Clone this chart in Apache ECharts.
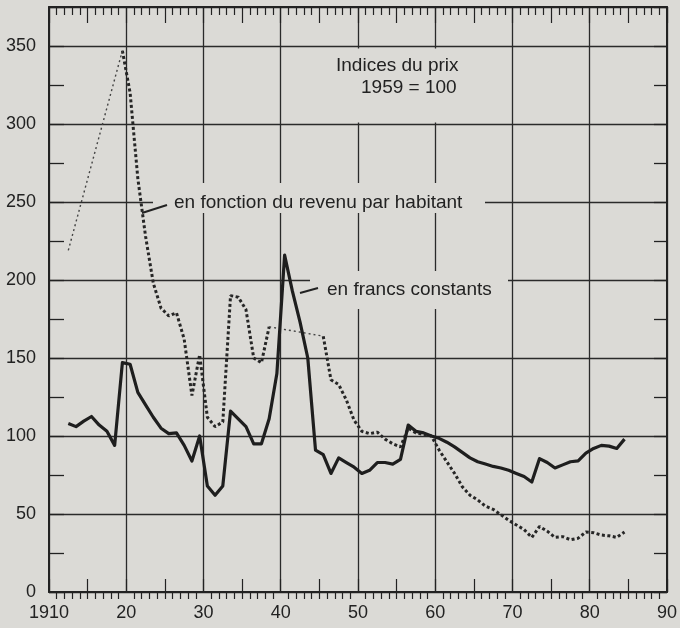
<!DOCTYPE html>
<html>
<head>
<meta charset="utf-8">
<script src="https://cdn.jsdelivr.net/npm/echarts@6/dist/echarts.min.js"></script>
<style>
html,body{margin:0;padding:0;background:#dbdad6;}
#chart{width:680px;height:628px;}
</style>
</head>
<body>
<div id="chart"></div>
<script>
// ---- data (annual values, index 1959 = 100) ----
const years = [1912,1913,1914,1915,1916,1917,1918,1919,1920,1921,1922,1923,1924,1925,1926,1927,1928,1929,
  1930,1931,1932,1933,1934,1935,1936,1937,1938,1939,1940,1941,1942,1943,1944,1945,1946,1947,1948,1949,
  1950,1951,1952,1953,1954,1955,1956,1957,1958,1959,1960,1961,1962,1963,1964,1965,1966,1967,1968,1969,
  1970,1971,1972,1973,1974,1975,1976,1977,1978,1979,1980,1981,1982,1983,1984];

const francsConstants = [108,106,109.5,112.5,107,103,94,147,146,128,120,112,105,101.5,102,94,84,100,
  68,62,68,116,111,106,95,95,111,140,216,193,173,150,91,88,76,86,83,80,
  76,78,83,83,82,85,107,103,102,100,98.5,96,93,89.5,86,83.5,82,80.5,79.5,78,
  76,74,70.5,85.5,83,79.5,81.5,83.5,84,89,92,94,93.5,92,98];

const revenuHabitant = [219,null,null,null,null,null,null,347,320,265,228,198,182,177,179,162,126,152,
  112,106,109,190,189,181,150,147,170,null,null,null,null,null,null,164,136,133,123,110,
  103,101.5,102.5,98,95,93,105,102,101,100,91,83.5,76,67.5,62,59,55,53,49.5,46,
  43,40,35,42,39,35,35.5,33.5,34.5,38.5,38,36.5,36,35,38.5];

const xTickLabels = {1910:'1910',1920:'20',1930:'30',1940:'40',1950:'50',1960:'60',1970:'70',1980:'80',1990:'90'};

// annual values drawn at mid-year
const pos = y => y + 0.5;
const solidData = years.map((y,i)=>[pos(y), francsConstants[i]]);
const revenuData = years.map((y,i)=>[pos(y), revenuHabitant[i]]);
// thin connectors across missing years
const gapSeries = [];
for (let i=0;i<revenuHabitant.length;i++){
  if (revenuHabitant[i]!==null && i+1<revenuHabitant.length && revenuHabitant[i+1]===null){
    let j=i+1; while(j<revenuHabitant.length && revenuHabitant[j]===null) j++;
    if (j<revenuHabitant.length) gapSeries.push([[pos(years[i]),revenuHabitant[i]],[pos(years[j]),revenuHabitant[j]]]);
  }
}

const BG = '#dbdad6';
const INK = '#222';
const FONT = 'Liberation Sans';

const chart = echarts.init(document.getElementById('chart'), null, {renderer:'canvas'});

const series = [
  {type:'line', name:'revenu', data: revenuData, showSymbol:false, connectNulls:false, z:3,
   lineStyle:{color:'#262626', width:3, type:[3,2.5]}, animation:false}
];
gapSeries.forEach(g=>series.push({type:'line', data:g, showSymbol:false, z:3,
   lineStyle:{color:'#444', width:1.4, type:[2,3]}, animation:false}));
series.push({type:'line', name:'francs', data: solidData, showSymbol:false, z:4,
   lineStyle:{color:'#1e1e1e', width:3.2, join:'round'}, animation:false});

chart.setOption({
  backgroundColor: BG,
  animation:false,
  grid:{left:49, right:7, top:7, bottom:36, show:false},
  xAxis:[
    {type:'value', position:'bottom', min:1910, max:1990, interval:10,
     axisLine:{show:true, onZero:false, lineStyle:{color:INK, width:2}},
     axisTick:{show:false},
     minorTick:{show:true, splitNumber:10, length:7, lineStyle:{color:INK, width:1.2}},
     splitLine:{show:true, lineStyle:{color:'#2a2a2a', width:1.3}},
     axisLabel:{color:INK, fontSize:18, fontFamily:FONT, margin:12,
       formatter: v => xTickLabels[v] || ''}},
    {type:'value', position:'bottom', min:1910, max:1990, interval:5,
     axisLine:{show:false}, axisLabel:{show:false}, splitLine:{show:false},
     axisTick:{show:true, inside:true, length:13, lineStyle:{color:INK, width:1.2}}},
    {type:'value', position:'top', min:1910, max:1990, interval:5,
     axisLine:{show:true, onZero:false, lineStyle:{color:INK, width:2}},
     axisLabel:{show:false}, splitLine:{show:false},
     axisTick:{show:true, inside:true, length:16, lineStyle:{color:INK, width:1.2}},
     minorTick:{show:true, splitNumber:5, length:8, lineStyle:{color:INK, width:1.2}}}
  ],
  yAxis:[
    {type:'value', position:'left', min:0, max:375, interval:50,
     axisLine:{show:true, onZero:false, lineStyle:{color:INK, width:2}},
     axisTick:{show:false},
     splitLine:{show:true, lineStyle:{color:'#2a2a2a', width:1.3}},
     axisLabel:{color:INK, fontSize:18, fontFamily:FONT, margin:13,
       formatter: v => (v % 50 === 0 ? String(v) : '')}},
    {type:'value', position:'left', min:0, max:375, interval:25,
     axisLine:{show:false}, axisLabel:{show:false}, splitLine:{show:false},
     axisTick:{show:true, inside:true, length:15, lineStyle:{color:INK, width:1.3}}},
    {type:'value', position:'right', min:0, max:375, interval:25,
     axisLine:{show:true, onZero:false, lineStyle:{color:INK, width:2}},
     axisLabel:{show:false}, splitLine:{show:false},
     axisTick:{show:true, inside:true, length:13, lineStyle:{color:INK, width:1.3}}}
  ],
  series: series,
  graphic:[
    {type:'rect', z:1, shape:{x:298, y:48.5, width:203, height:74}, style:{fill:BG}},
    {type:'rect', z:1, shape:{x:153, y:183, width:332, height:30}, style:{fill:BG}},
    {type:'rect', z:1, shape:{x:310, y:271, width:198, height:38}, style:{fill:BG}},
    {type:'text', z:10, x:336, y:66, style:{text:'Indices du prix', fill:INK, font:'19px "Liberation Sans"', verticalAlign:'middle'}},
    {type:'text', z:10, x:361, y:88, style:{text:'1959 = 100', fill:INK, font:'19px "Liberation Sans"', verticalAlign:'middle'}},
    {type:'text', z:10, x:174, y:203, style:{text:'en fonction du revenu par habitant', fill:INK, font:'19px "Liberation Sans"', verticalAlign:'middle'}},
    {type:'text', z:10, x:327, y:290, style:{text:'en francs constants', fill:INK, font:'19px "Liberation Sans"', verticalAlign:'middle'}},
    {type:'line', z:10, shape:{x1:142, y1:213, x2:167, y2:205}, style:{stroke:INK, lineWidth:2}},
    {type:'line', z:10, shape:{x1:300, y1:293, x2:318, y2:288}, style:{stroke:INK, lineWidth:2}}
  ]
});
</script>
</body>
</html>
